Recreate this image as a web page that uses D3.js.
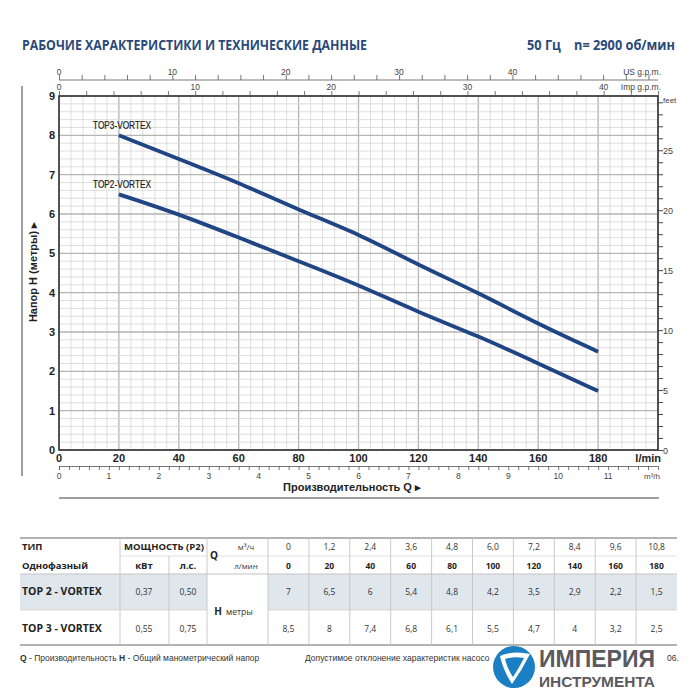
<!DOCTYPE html>
<html><head><meta charset="utf-8">
<script src="https://cdn.jsdelivr.net/npm/d3@7"></script>
<style>
html,body{margin:0;padding:0;background:#fff;}
svg{display:block;}
</style></head>
<body>
<svg id="c" width="700" height="700"></svg>
<script>
// ---- data ----
const qLmin = [0, 20, 40, 60, 80, 100, 120, 140, 160, 180];
const qM3h = ["0", "1,2", "2,4", "3,6", "4,8", "6,0", "7,2", "8,4", "9,6", "10,8"];
const headTop2 = [7, 6.5, 6, 5.4, 4.8, 4.2, 3.5, 2.9, 2.2, 1.5];
const headTop3 = [8.5, 8, 7.4, 6.8, 6.1, 5.5, 4.7, 4, 3.2, 2.5];
const seriesNames = ["TOP2-VORTEX", "TOP3-VORTEX"];
const modelNames = ["TOP 2 - VORTEX", "TOP 3 - VORTEX"];
const powerKw = ["0,37", "0,55"];
const powerHp = ["0,50", "0,75"];
const xTicksLmin = [0, 20, 40, 60, 80, 100, 120, 140, 160, 180];
const yTicksM = [0, 1, 2, 3, 4, 5, 6, 7, 8, 9];
const feetTicks = [0, 5, 10, 15, 20, 25];
const m3hTicks = [0, 1, 2, 3, 4, 5, 6, 7, 8, 9, 10, 11];
const usTicks = [0, 10, 20, 30, 40];
const impTicks = [0, 10, 20, 30, 40];

const svg = d3.select("#c");
const NARROW = "'Liberation Sans Narrow','Arial Narrow','Liberation Sans',Arial,sans-serif";
const SANS = "'Liberation Sans',Arial,sans-serif";
const OPEN = "'Open Sans','Noto Sans',sans-serif";
const BLUE = "#1f4585";
const TITLE = "#28497a";

const x = d3.scaleLinear().domain([0, 200]).range([59, 658]);
const y = d3.scaleLinear().domain([0, 9]).range([450, 96]);
const yFt = d3.scaleLinear().domain([0, 9 / 0.3048]).range([450, 96]);
const xM3 = d3.scaleLinear().domain([0, 12]).range([59, 658]);
const xUs = d3.scaleLinear().domain([0, 200 / 3.785]).range([59, 658]);
const xImp = d3.scaleLinear().domain([0, 200 / 4.546]).range([59, 658]);

// ---- titles ----
svg.append("text").attr("x", 22).attr("y", 50).attr("font-family", OPEN).attr("font-weight", 700)
  .attr("font-size", 13.5).attr("fill", TITLE).attr("textLength", 345).attr("lengthAdjust", "spacingAndGlyphs")
  .text("РАБОЧИЕ ХАРАКТЕРИСТИКИ И ТЕХНИЧЕСКИЕ ДАННЫЕ");
svg.append("text").attr("x", 527).attr("y", 50).attr("font-family", OPEN).attr("font-weight", 700)
  .attr("font-size", 13.5).attr("fill", TITLE).attr("textLength", 148).attr("lengthAdjust", "spacingAndGlyphs")
  .attr("xml:space", "preserve").text("50 Гц    n= 2900 об/мин");

// ---- frame decorations ----
svg.append("line").attr("x1", 22).attr("x2", 22).attr("y1", 86).attr("y2", 476).attr("stroke", "#a0a0a0").attr("stroke-width", 2);
svg.append("line").attr("x1", 59).attr("x2", 659).attr("y1", 498).attr("y2", 498).attr("stroke", "#a0a0a0").attr("stroke-width", 2.2);

// ---- grid ----
const grid = svg.append("g");
grid.selectAll(".vg").data(d3.range(0, 201, 4)).join("line")
  .attr("x1", d => x(d)).attr("x2", d => x(d)).attr("y1", y(0)).attr("y2", y(9))
  .attr("stroke", d => d % 20 === 0 ? "#b5b5b5" : "#d6d6d6").attr("stroke-width", d => d % 20 === 0 ? 1.3 : 0.8);
grid.selectAll(".hg").data(d3.range(0, 46).map(i => i / 5)).join("line")
  .attr("x1", x(0)).attr("x2", x(200)).attr("y1", d => y(d)).attr("y2", d => y(d))
  .attr("stroke", d => Math.abs(d - Math.round(d)) < 1e-6 ? "#b5b5b5" : "#d6d6d6")
  .attr("stroke-width", d => Math.abs(d - Math.round(d)) < 1e-6 ? 1.3 : 0.8);

// plot border
svg.append("rect").attr("x", x(0)).attr("y", y(9)).attr("width", x(200) - x(0)).attr("height", y(0) - y(9))
  .attr("fill", "none").attr("stroke", "#333").attr("stroke-width", 1.6);

// ---- left axis (m) ----
svg.append("g").selectAll("text").data(yTicksM).join("text")
  .attr("x", 55).attr("y", d => y(d) + 4).attr("text-anchor", "end")
  .attr("font-family", SANS).attr("font-weight", 700).attr("font-size", 11).attr("fill", "#222").text(d => d);

// ---- bottom axis l/min ----
svg.append("g").selectAll("text").data(xTicksLmin).join("text")
  .attr("x", d => x(d)).attr("y", 462).attr("text-anchor", "middle")
  .attr("font-family", SANS).attr("font-weight", 700).attr("font-size", 11).attr("fill", "#222").text(d => d);
svg.append("text").attr("x", 661).attr("y", 462).attr("text-anchor", "end").attr("font-family", NARROW)
  .attr("font-weight", 700).attr("font-size", 11).attr("fill", "#222").text("l/min");

// ---- m3/h axis ----
const gM3 = svg.append("g").attr("transform", "translate(0,466)");
gM3.call(d3.axisBottom(xM3).tickValues(d3.range(0, 60).map(i => i / 5)).tickSize(4).tickFormat(""));
gM3.select(".domain").attr("stroke", "#555").attr("stroke-width", 0.8);
gM3.selectAll(".tick line").attr("stroke", "#555").attr("stroke-width", 0.8);
svg.append("g").selectAll("text").data(m3hTicks).join("text")
  .attr("x", d => xM3(d)).attr("y", 479).attr("text-anchor", "middle")
  .attr("font-family", NARROW).attr("font-size", 8.5).attr("fill", "#444").text(d => d);
svg.append("text").attr("x", 660).attr("y", 479).attr("text-anchor", "end").attr("font-family", NARROW)
  .attr("font-size", 8).attr("fill", "#444").text("m³/h");

svg.append("text").attr("x", 352).attr("y", 491).attr("text-anchor", "middle").attr("font-family", SANS)
  .attr("font-weight", 700).attr("font-size", 11).attr("fill", "#222").text("Производительность Q  ▸");

// ---- Y title ----
svg.append("text").attr("transform", "translate(37,272) rotate(-90)").attr("text-anchor", "middle")
  .attr("font-family", SANS).attr("font-weight", 700).attr("font-size", 11).attr("fill", "#222")
  .text("Напор H (метры)  ▸");

// ---- right axis feet ----
const gFt = svg.append("g").attr("transform", `translate(${x(200)},0)`);
gFt.call(d3.axisRight(yFt).tickValues(d3.range(0, 30)).tickSize(5).tickFormat(""));
gFt.select(".domain").remove();
gFt.selectAll(".tick line").attr("stroke", "#333").attr("stroke-width", 0.9);
svg.append("g").selectAll("text").data(feetTicks).join("text")
  .attr("x", 663).attr("y", d => yFt(d) + 3.5).attr("font-family", NARROW).attr("font-size", 9).attr("fill", "#444").text(d => d);
svg.append("text").attr("x", 663).attr("y", 103).attr("font-family", NARROW).attr("font-size", 8).attr("fill", "#444").text("feet");

// ---- top axes ----
const gUs = svg.append("g").attr("transform", "translate(0,80)");
gUs.call(d3.axisTop(xUs).tickValues(d3.range(0, 53, 2)).tickSize(5).tickFormat(""));
gUs.select(".domain").attr("d", `M${x(0)},0H${x(200)}`).attr("stroke", "#555").attr("stroke-width", 0.8);
gUs.selectAll(".tick line").attr("stroke", "#555").attr("stroke-width", 0.8);
svg.append("g").selectAll("text").data(usTicks).join("text")
  .attr("x", d => xUs(d)).attr("y", 75).attr("text-anchor", "middle")
  .attr("font-family", NARROW).attr("font-size", 8.5).attr("fill", "#444").text(d => d);
svg.append("text").attr("x", 661).attr("y", 75).attr("text-anchor", "end").attr("font-family", NARROW)
  .attr("font-size", 8.5).attr("fill", "#444").text("US g.p.m.");

const gImp = svg.append("g").attr("transform", `translate(0,${y(9)})`);
gImp.call(d3.axisTop(xImp).tickValues(d3.range(0, 45, 2)).tickSize(5).tickFormat(""));
gImp.select(".domain").remove();
gImp.selectAll(".tick line").attr("stroke", "#555").attr("stroke-width", 0.8);
svg.append("g").selectAll("text").data(impTicks).join("text")
  .attr("x", d => xImp(d)).attr("y", 90).attr("text-anchor", "middle")
  .attr("font-family", NARROW).attr("font-size", 8.5).attr("fill", "#444").text(d => d);
svg.append("text").attr("x", 661).attr("y", 90).attr("text-anchor", "end").attr("font-family", NARROW)
  .attr("font-size", 8.5).attr("fill", "#444").text("Imp g.p.m.");

// ---- curves ----
const line = d3.line().x(d => x(d[0])).y(d => y(d[1])).curve(d3.curveBasis);
const series = [headTop2, headTop3].map(arr => qLmin.map((q, i) => [q, arr[i]]).filter(d => d[0] >= 20));
svg.append("g").selectAll("path").data(series).join("path")
  .attr("d", line).attr("fill", "none").attr("stroke", BLUE).attr("stroke-width", 3.8).attr("stroke-linecap", "butt");
svg.append("g").selectAll("text").data(series).join("text")
  .attr("x", 93).attr("y", d => y(d[0][1]) - 6).attr("font-family", NARROW).attr("font-size", 11)
  .attr("fill", "#1a1a1a").attr("stroke", "#1a1a1a").attr("stroke-width", 0.2)
  .attr("textLength", 58).attr("lengthAdjust", "spacingAndGlyphs")
  .text((d, i) => seriesNames[i]);

// ---- table ----
const tb = svg.append("g");
const colX0 = 268, colW = 40.9;
const cx = i => colX0 + colW * i + colW / 2;
const rowTop = 538, r2 = 556, r3 = 574, r4 = 610, rowBot = 645;
tb.append("rect").attr("x", 20).attr("y", r3).attr("width", 207 - 20).attr("height", r4 - r3).attr("fill", "#dfe6ec");
tb.append("rect").attr("x", 268).attr("y", r3).attr("width", 677 - 268).attr("height", r4 - r3).attr("fill", "#dfe6ec");
const hl = (x1, x2, yy, c, w) => tb.append("line").attr("x1", x1).attr("x2", x2).attr("y1", yy).attr("y2", yy).attr("stroke", c).attr("stroke-width", w);
const vl = (xx, y1, y2) => tb.append("line").attr("x1", xx).attr("x2", xx).attr("y1", y1).attr("y2", y2).attr("stroke", "#c4c4c4").attr("stroke-width", 0.9);
hl(20, 677, rowTop, "#9a9a9a", 1.3);
hl(120, 207, r2, "#d8d8d8", 0.8);
hl(217, 677, r2, "#d8d8d8", 0.8);
hl(20, 677, r3, "#c4c4c4", 1);
hl(20, 207, r4, "#d0d0d0", 0.8);
hl(268, 677, r4, "#d0d0d0", 0.8);
hl(20, 677, rowBot, "#9a9a9a", 1.3);
vl(120, rowTop, rowBot); vl(169, r2, rowBot); vl(207, rowTop, rowBot);
d3.range(0, 10).forEach(i => vl(colX0 + colW * i, rowTop, rowBot));

const txt = (xx, yy, s, o = {}) => tb.append("text").attr("x", xx).attr("y", yy)
  .attr("text-anchor", o.anchor || "middle").attr("font-family", OPEN).attr("font-weight", o.bold ? 700 : 400)
  .attr("font-size", o.size || 8.5).attr("fill", o.fill || "#333").text(s);
txt(22, 550, "ТИП", { anchor: "start", bold: true, size: 9.5, fill: "#222" });
txt(22, 569, "Однофазный", { anchor: "start", bold: true, size: 9.5, fill: "#222" });
txt(164, 550, "МОЩНОСТЬ (P2)", { bold: true, size: 9.5, fill: "#222" });
txt(144, 569, "кВт", { bold: true, size: 9.5, fill: "#222" });
txt(188, 569, "л.с.", { bold: true, size: 9.5, fill: "#222" });
txt(214, 559, "Q", { bold: true, size: 10, fill: "#222" });
txt(246, 550, "м³/ч", { size: 8 });
txt(246, 569, "л/мин", { size: 8 });
txt(218, 615, "H", { bold: true, size: 10, fill: "#222" });
txt(226, 615, "метры", { anchor: "start", size: 8.5 });
qM3h.forEach((s, i) => txt(cx(i), 550, s, { size: 8.5 }));
qLmin.forEach((s, i) => txt(cx(i), 569, s, { bold: true, size: 8.5, fill: "#222" }));
modelNames.forEach((m, k) => {
  const yy = k === 0 ? 595 : 632;
  txt(22, yy, m, { anchor: "start", bold: true, size: 10.5, fill: "#222" });
  txt(144, yy, powerKw[k], { size: 8.5 });
  txt(188, yy, powerHp[k], { size: 8.5 });
  const arr = k === 0 ? headTop2 : headTop3;
  arr.forEach((v, i) => txt(cx(i), yy, String(v).replace(".", ","), { size: 8.5 }));
});

// ---- footer ----
const ft = svg.append("g");
ft.append("text").attr("x", 20).attr("y", 661).attr("font-family", NARROW).attr("font-size", 8.5).attr("fill", "#333")
  .html('<tspan font-weight="700">Q</tspan> - Производительность  <tspan font-weight="700">H</tspan> - Общий манометрический напор');
ft.append("text").attr("x", 305).attr("y", 661).attr("font-family", NARROW).attr("font-size", 8.5).attr("fill", "#333")
  .text("Допустимое отклонение характеристик насосо");
ft.append("text").attr("x", 667).attr("y", 661).attr("font-family", NARROW).attr("font-size", 8.5).attr("fill", "#333").text("06.");

// logo
const lg = svg.append("g");
lg.append("rect").attr("x", 492).attr("y", 646).attr("width", 168).attr("height", 50).attr("fill", "#fff");
lg.append("circle").attr("cx", 514).attr("cy", 667).attr("r", 21).attr("fill", "#1b7fc4");
lg.append("path").attr("d", "M500,656 Q514,650 530,654 Q522,670 512,684 Q503,670 500,656 Z").attr("fill", "#fff");
lg.append("path").attr("d", "M505,659 Q514,656 524,658 Q519,668 513,677 Q507,668 505,659 Z").attr("fill", "#1b7fc4");
lg.append("text").attr("x", 539).attr("y", 667).attr("font-family", SANS).attr("font-weight", 700).attr("font-size", 23)
  .attr("fill", "#5a5a5e").attr("textLength", 116).attr("lengthAdjust", "spacingAndGlyphs").text("ИМПЕРИЯ");
lg.append("text").attr("x", 539).attr("y", 687).attr("font-family", SANS).attr("font-weight", 700).attr("font-size", 15)
  .attr("fill", "#5a5a5e").attr("textLength", 116).attr("lengthAdjust", "spacingAndGlyphs").text("ИНСТРУМЕНТА");
</script>
</body></html>
